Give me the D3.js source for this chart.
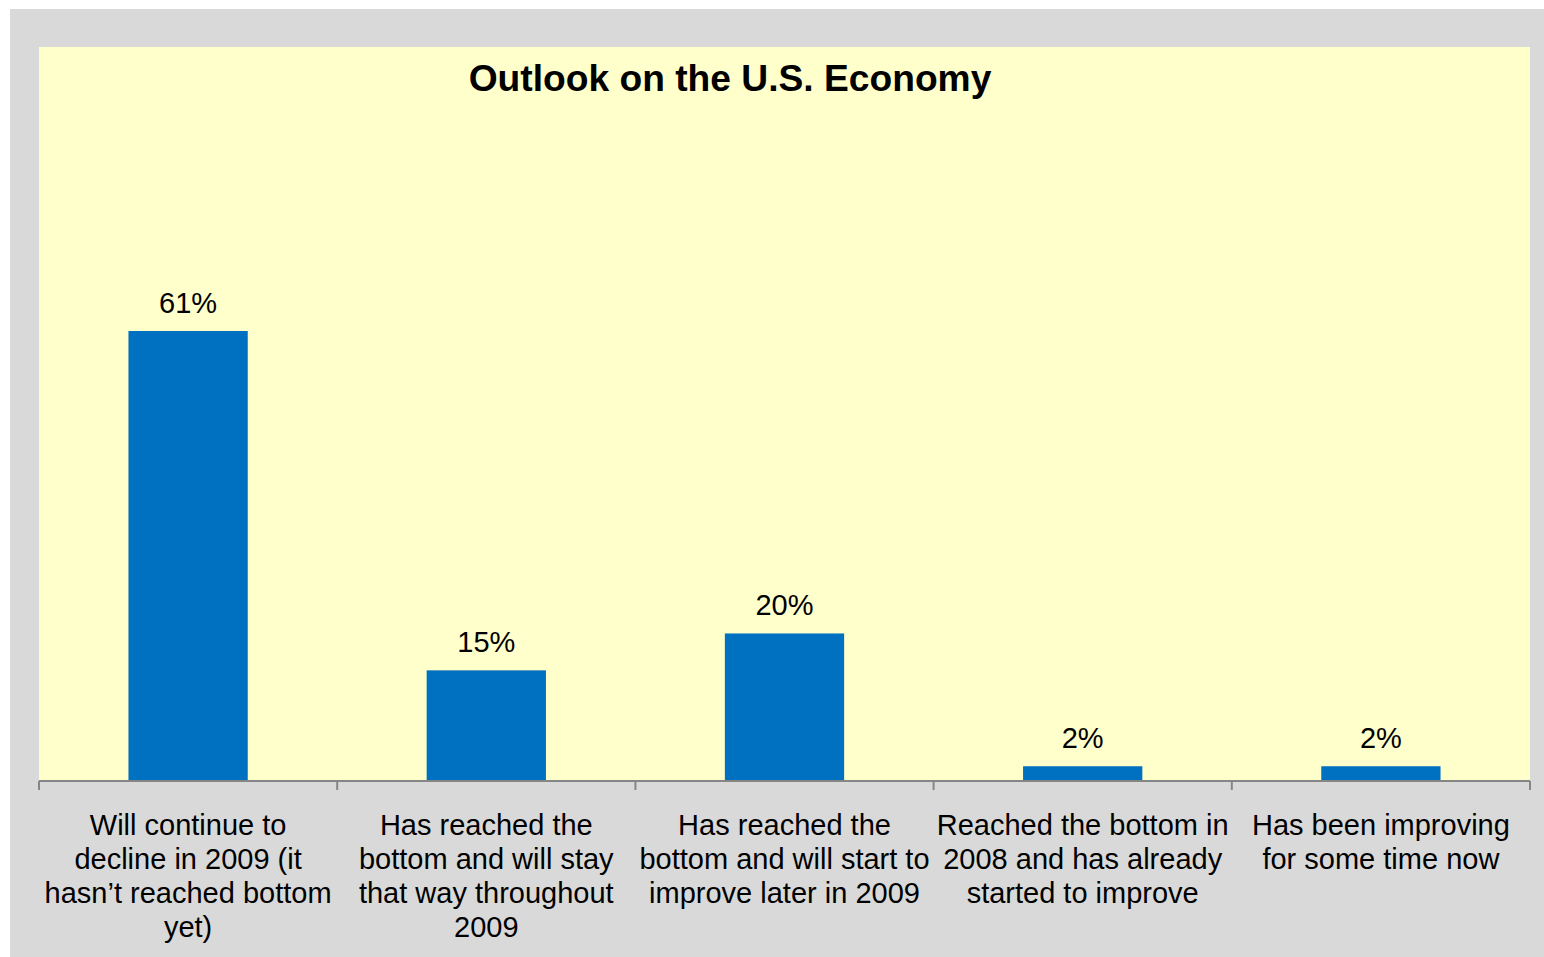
<!DOCTYPE html>
<html>
<head>
<meta charset="utf-8">
<script src="https://cdn.jsdelivr.net/npm/d3@7"></script>
<style>
  html, body { margin: 0; padding: 0; background: #ffffff; }
  svg { display: block; font-family: "Liberation Sans", Arial, sans-serif; }
</style>
</head>
<body>
<svg id="chart" width="1544" height="957"></svg>
<script>
// Survey answers (category labels, with line breaks as printed)
const categories = [
  "Will continue to\ndecline in 2009 (it\nhasn\u2019t reached bottom\nyet)",
  "Has reached the\nbottom and will stay\nthat way throughout\n2009",
  "Has reached the\nbottom and will start to\nimprove later in 2009",
  "Reached the bottom in\n2008 and has already\nstarted to improve",
  "Has been improving\nfor some time now"
];
// Share of respondents, percent
const values = [61, 15, 20, 2, 2];
const title = "Outlook on the U.S. Economy";

const svg = d3.select("#chart");

// Outer chart area
svg.append("rect")
  .attr("x", 10).attr("y", 9)
  .attr("width", 1534).attr("height", 948)
  .attr("fill", "#d9d9d9");

// Plot area
const plot = { left: 39, right: 1530, top: 47, bottom: 781 };
svg.append("rect")
  .attr("x", plot.left).attr("y", plot.top)
  .attr("width", plot.right - plot.left).attr("height", plot.bottom - plot.top)
  .attr("fill", "#ffffcc");

const x = d3.scaleBand()
  .domain(categories)
  .range([plot.left, plot.right])
  .paddingInner(0.6)
  .paddingOuter(0.3);

const y = d3.scaleLinear()
  .domain([0, 100])
  .range([plot.bottom, plot.bottom - 737.7]);

// Bars
svg.append("g").selectAll("rect")
  .data(values)
  .join("rect")
  .attr("x", (d, i) => x(categories[i]))
  .attr("y", d => y(d))
  .attr("width", x.bandwidth())
  .attr("height", d => y(0) - y(d))
  .attr("fill", "#0070c0");

// Value labels
svg.append("g").selectAll("text")
  .data(values)
  .join("text")
  .attr("x", (d, i) => x(categories[i]) + x.bandwidth() / 2)
  .attr("y", d => y(d) - 18)
  .attr("text-anchor", "middle")
  .attr("font-size", 29)
  .attr("fill", "#000")
  .text(d => d + "%");

// Category axis: ticks at band boundaries
const boundaries = d3.range(categories.length + 1).map(i => plot.left + i * (plot.right - plot.left) / categories.length);
const axisG = svg.append("g");
axisG.append("line")
  .attr("x1", plot.left).attr("x2", plot.right)
  .attr("y1", plot.bottom).attr("y2", plot.bottom)
  .attr("stroke", "#868686").attr("stroke-width", 2);
axisG.selectAll("line.tick")
  .data(boundaries)
  .join("line")
  .attr("class", "tick")
  .attr("x1", d => d).attr("x2", d => d)
  .attr("y1", plot.bottom).attr("y2", plot.bottom + 9)
  .attr("stroke", "#868686").attr("stroke-width", 2);

// Category labels
const labelG = svg.append("g");
categories.forEach((c, i) => {
  const cx = x(c) + x.bandwidth() / 2;
  const t = labelG.append("text")
    .attr("x", cx)
    .attr("y", 835)
    .attr("text-anchor", "middle")
    .attr("font-size", 29)
    .attr("fill", "#000");
  c.split("\n").forEach((line, j) => {
    t.append("tspan")
      .attr("x", cx)
      .attr("dy", j === 0 ? 0 : 34)
      .text(line);
  });
});

// Title
svg.append("text")
  .attr("x", 730).attr("y", 91)
  .attr("text-anchor", "middle")
  .attr("font-size", 37.2)
  .attr("font-weight", "bold")
  .attr("fill", "#000")
  .text(title);
</script>
</body>
</html>
